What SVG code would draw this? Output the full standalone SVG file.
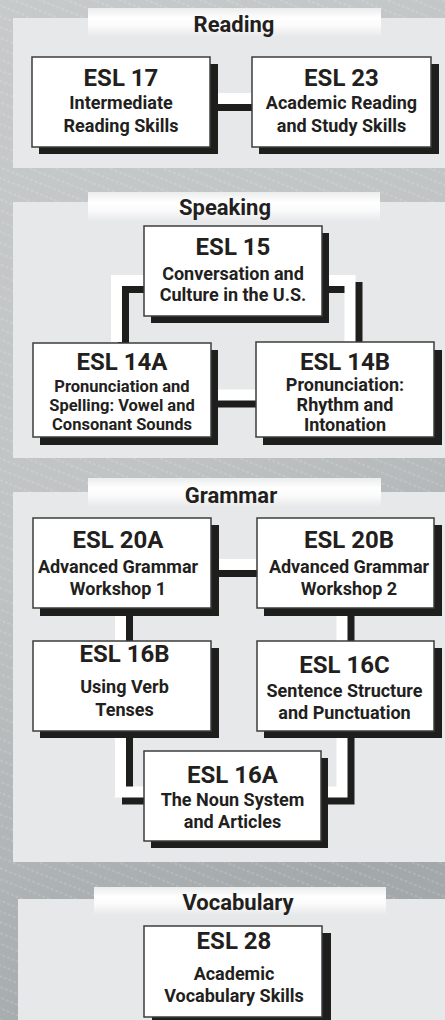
<svg xmlns="http://www.w3.org/2000/svg" width="445" height="1020" viewBox="0 0 445 1020">
<defs>
<linearGradient id="bgGrad" x1="0" y1="0" x2="0.3" y2="1">
<stop offset="0" stop-color="#c7cacb"/>
<stop offset="0.5" stop-color="#c0c4c5"/>
<stop offset="1" stop-color="#a3a8aa"/>
</linearGradient>
<linearGradient id="bannerGrad" x1="0" y1="0" x2="0" y2="1">
<stop offset="0" stop-color="#ebecec"/>
<stop offset="0.35" stop-color="#ffffff"/>
<stop offset="0.6" stop-color="#fbfbfb"/>
<stop offset="1" stop-color="#e7e8e9"/>
</linearGradient>
<pattern id="stripes" patternUnits="userSpaceOnUse" width="40" height="10" patternTransform="rotate(22)">
<line x1="0" y1="5" x2="40" y2="5" stroke="#ffffff" stroke-opacity="0.35" stroke-width="0.8" stroke-dasharray="3 2"/>
</pattern>
<style>
.panel{fill:#e7e8e9}
.banner{fill:url(#bannerGrad)}
.shadow{fill:#1e1e1c}
.box{fill:#ffffff;stroke:#3c3c3c;stroke-width:1.5}
.h{font-family:Roboto,"Liberation Sans",sans-serif;font-weight:bold;font-size:22px;fill:#231f20;text-anchor:middle}
.t{font-family:Roboto,"Liberation Sans",sans-serif;font-weight:bold;font-size:24px;fill:#231f20;text-anchor:middle}
.s{font-family:Roboto,"Liberation Sans",sans-serif;font-weight:bold;font-size:18px;fill:#231f20;text-anchor:middle}
.ss{font-family:Roboto,"Liberation Sans",sans-serif;font-weight:bold;font-size:16.5px;fill:#231f20;text-anchor:middle}
.cs{fill:none;stroke:#1e1e1c;stroke-width:11;stroke-linejoin:miter;stroke-linecap:butt}
.cw{fill:none;stroke:#ffffff;stroke-width:11;stroke-linejoin:miter;stroke-linecap:butt}
</style>
</defs>

<rect x="0" y="0" width="445" height="1020" fill="url(#bgGrad)"/>
<rect x="0" y="0" width="445" height="1020" fill="url(#stripes)"/>

<g id="panel-reading">
<rect class="panel" x="13" y="18" width="432" height="150"/>
<rect class="banner" x="88" y="8" width="293" height="29"/>
<text class="h" x="234" y="32">Reading</text>
</g>
<g id="panel-speaking">
<rect class="panel" x="13" y="202" width="432" height="256"/>
<rect class="banner" x="88" y="192" width="292" height="30"/>
<text class="h" x="225" y="215">Speaking</text>
</g>
<g id="panel-grammar">
<rect class="panel" x="13" y="492" width="432" height="370"/>
<rect class="banner" x="88" y="478" width="293" height="29"/>
<text class="h" x="231" y="503">Grammar</text>
</g>
<g id="panel-vocabulary">
<rect class="panel" x="18" y="899" width="427" height="121"/>
<rect class="banner" x="94" y="887" width="292" height="28"/>
<text class="h" x="238" y="910">Vocabulary</text>
</g>

<g id="connectors">
<g transform="translate(7,7)">
<path class="cs" d="M210,98.5 H252"/>
<path class="cs" d="M144,280.5 H116.5 V342"/>
<path class="cs" d="M322,280.5 H350 V342"/>
<path class="cs" d="M211,395 H256"/>
<path class="cs" d="M211,564.5 H257"/>
<path class="cs" d="M120.5,608 V641"/>
<path class="cs" d="M342,608 V641"/>
<path class="cs" d="M120.5,731 V792 H144"/>
<path class="cs" d="M342,731 V792 H321"/>
</g>
<path class="cw" d="M210,98.5 H252"/>
<path class="cw" d="M144,280.5 H116.5 V342"/>
<path class="cw" d="M322,280.5 H350 V342"/>
<path class="cw" d="M211,395 H256"/>
<path class="cw" d="M211,564.5 H257"/>
<path class="cw" d="M120.5,608 V641"/>
<path class="cw" d="M342,608 V641"/>
<path class="cw" d="M120.5,731 V792 H144"/>
<path class="cw" d="M342,731 V792 H321"/>
</g>

<g id="esl17">
<rect class="shadow" x="39" y="64" width="179" height="90"/>
<rect class="box" x="32" y="57" width="178" height="90"/>
<text class="t" x="121" y="86">ESL 17</text>
<text class="s" x="121" y="109">Intermediate</text>
<text class="s" x="121" y="132">Reading Skills</text>
</g>
<g id="esl23">
<rect class="shadow" x="259" y="64" width="180" height="90"/>
<rect class="box" x="252" y="57" width="179" height="90"/>
<text class="t" x="341.5" y="86">ESL 23</text>
<text class="s" x="341.5" y="109">Academic Reading</text>
<text class="s" x="341.5" y="132">and Study Skills</text>
</g>

<g id="esl15">
<rect class="shadow" x="151" y="233" width="178" height="90"/>
<rect class="box" x="144" y="226" width="178" height="90"/>
<text class="t" x="233" y="255">ESL 15</text>
<text class="s" x="233" y="280">Conversation and</text>
<text class="s" x="233" y="301">Culture in the U.S.</text>
</g>
<g id="esl14a">
<rect class="shadow" x="40" y="350" width="178" height="95"/>
<rect class="box" x="33" y="343" width="178" height="94"/>
<text class="t" x="122" y="370">ESL 14A</text>
<text class="ss" x="122" y="392">Pronunciation and</text>
<text class="ss" x="122" y="411">Spelling: Vowel and</text>
<text class="ss" x="122" y="430">Consonant Sounds</text>
</g>
<g id="esl14b">
<rect class="shadow" x="263" y="350" width="179" height="95"/>
<rect class="box" x="256" y="342" width="178" height="95"/>
<text class="t" x="345" y="370">ESL 14B</text>
<text class="s" x="345" y="391">Pronunciation:</text>
<text class="s" x="345" y="411">Rhythm and</text>
<text class="s" x="345" y="431">Intonation</text>
</g>

<g id="esl20a">
<rect class="shadow" x="40" y="525" width="179" height="91"/>
<rect class="box" x="33" y="518" width="178" height="90"/>
<text class="t" x="118" y="548">ESL 20A</text>
<text class="s" x="118" y="573">Advanced Grammar</text>
<text class="s" x="118" y="595">Workshop 1</text>
</g>
<g id="esl20b">
<rect class="shadow" x="264" y="525" width="178" height="91"/>
<rect class="box" x="257" y="518" width="177" height="90"/>
<text class="t" x="349" y="548">ESL 20B</text>
<text class="s" x="349" y="573">Advanced Grammar</text>
<text class="s" x="349" y="595">Workshop 2</text>
</g>
<g id="esl16b">
<rect class="shadow" x="40" y="648" width="179" height="90"/>
<rect class="box" x="33" y="641" width="178" height="90"/>
<text class="t" x="124.5" y="662">ESL 16B</text>
<text class="s" x="124.5" y="693">Using Verb</text>
<text class="s" x="124.5" y="716">Tenses</text>
</g>
<g id="esl16c">
<rect class="shadow" x="264" y="648" width="178" height="90"/>
<rect class="box" x="257" y="641" width="177" height="90"/>
<text class="t" x="344.5" y="673">ESL 16C</text>
<text class="s" x="344.5" y="697">Sentence Structure</text>
<text class="s" x="344.5" y="719">and Punctuation</text>
</g>
<g id="esl16a">
<rect class="shadow" x="151" y="758" width="177" height="90"/>
<rect class="box" x="144" y="751" width="177" height="90"/>
<text class="t" x="232.5" y="783">ESL 16A</text>
<text class="s" x="232.5" y="806">The Noun System</text>
<text class="s" x="232.5" y="828">and Articles</text>
</g>

<g id="esl28">
<rect class="shadow" x="152" y="933" width="179" height="91"/>
<rect class="box" x="144" y="926" width="178" height="91"/>
<text class="t" x="234" y="949">ESL 28</text>
<text class="s" x="234" y="980">Academic</text>
<text class="s" x="234" y="1002">Vocabulary Skills</text>
</g>
</svg>
